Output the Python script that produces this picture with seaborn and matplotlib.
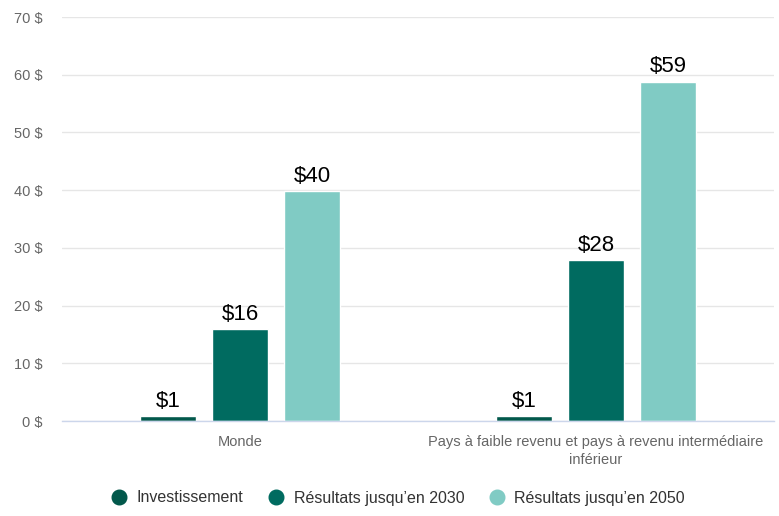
import matplotlib
matplotlib.use("Agg")
import matplotlib.pyplot as plt
from matplotlib.lines import Line2D
import seaborn as sns
import pandas as pd

categories = ["Monde", "Pays à faible revenu et pays à revenu intermédiaire\ninférieur"]
series = ["Investissement", "Résultats jusqu’en 2030", "Résultats jusqu’en 2050"]
investissement = [0.8, 0.8]
resultats_2030 = [15.9, 27.9]
resultats_2050 = [39.9, 58.8]
colors = ["#02584b", "#006b60", "#80cbc4"]
yticks = [0, 10, 20, 30, 40, 50, 60, 70]

rows = []
for s, vals in zip(series, [investissement, resultats_2030, resultats_2050]):
    for c, v in zip(categories, vals):
        rows.append({"cat": c, "serie": s, "val": v})
df = pd.DataFrame(rows)

sns.set_theme(style="white")
plt.rcParams["font.family"] = ["Liberation Sans", "DejaVu Sans"]

fig = plt.figure(figsize=(7.79, 5.16), dpi=100)
ax = fig.add_axes([62 / 779, (516 - 421) / 516, (774 - 62) / 779, (421 - 17) / 516])

sns.barplot(data=df, x="cat", y="val", hue="serie", hue_order=series,
            palette=colors, width=0.607, gap=0.22, ax=ax, legend=False,
            saturation=1, errorbar=None)

for cont in ax.containers:
    ax.bar_label(cont, labels=[f"${v:.0f}" for v in cont.datavalues],
                 padding=3, fontsize=16, color="black")

ax.set_xlim(-0.5, 1.5)
ax.set_ylim(0, 70)
ax.set_yticks(yticks)
ax.set_yticklabels([f"{t} $" for t in yticks], fontsize=10.5, color="#666666")
ax.tick_params(axis="x", labelsize=10.5, labelcolor="#666666", length=0, pad=10)
ax.tick_params(axis="y", length=0, pad=14)
for lbl in ax.get_xticklabels():
    lbl.set_linespacing(1.35)
ax.set_xlabel("")
ax.set_ylabel("")
ax.grid(axis="y", color="#e6e6e6", linewidth=1)
ax.set_axisbelow(True)
for side in ["top", "right", "left"]:
    ax.spines[side].set_visible(False)
ax.spines["bottom"].set_color("#ccd6eb")
ax.spines["bottom"].set_linewidth(1)

handles = [Line2D([0], [0], marker="o", linestyle="", markersize=10.5,
                  markerfacecolor=c, markeredgecolor=c) for c in colors]
fig.legend(handles, series, loc="center", bbox_to_anchor=(398 / 779, 1 - 498 / 516),
           ncol=3, frameon=False, fontsize=11.5, handletextpad=0.6,
           handlelength=1.0, columnspacing=1.55, labelcolor="#333333")

fig.savefig("out.png", dpi=100)
